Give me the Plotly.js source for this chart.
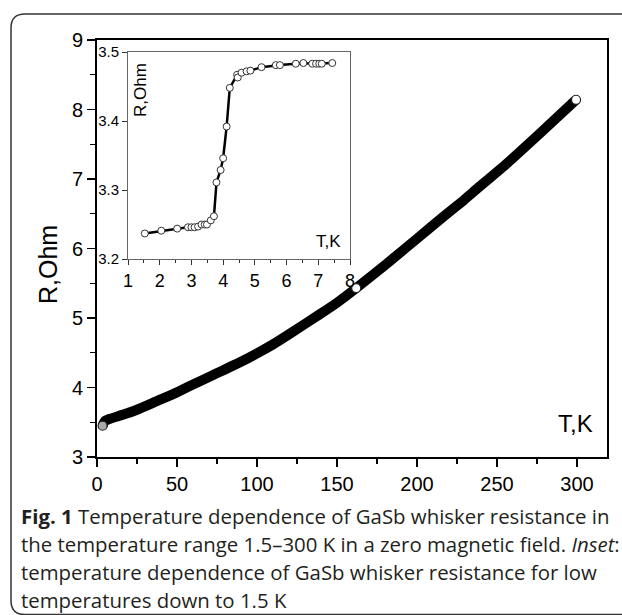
<!DOCTYPE html>
<html>
<head>
<meta charset="utf-8">
<script src="https://cdn.plot.ly/plotly-3.0.1.min.js"></script>
<style>html,body{margin:0;padding:0;background:#fff;} #chart{width:622px;height:615px;}</style>
</head>
<body>
<div id="chart"></div>
<script>
// Main curve: temperature (K) and resistance (Ohm)
var mainT = [3.5, 4, 5, 8, 16.5, 25, 37, 50, 58, 70, 79, 90, 100, 110, 121, 139, 150, 162, 181, 202, 215, 229, 235, 256, 277, 299.4];
var mainR = [3.45, 3.48, 3.52, 3.55, 3.61, 3.68, 3.80, 3.93, 4.02, 4.15, 4.25, 4.37, 4.49, 4.62, 4.78, 5.05, 5.22, 5.43, 5.78, 6.18, 6.43, 6.69, 6.81, 7.22, 7.66, 8.14];
// isolated open circles visible on the main curve
var openT = [3.5, 162, 299.4];
var openR = [3.45, 5.43, 8.14];
// Inset: low temperature data
var insetT = [1.53, 2.05, 2.55, 2.89, 3.0, 3.1, 3.21, 3.32, 3.42, 3.49, 3.61, 3.71, 3.79, 3.92, 4.0, 4.11, 4.21, 4.44, 4.46, 4.58, 4.74, 4.86, 5.21, 5.66, 5.79, 6.29, 6.53, 6.81, 6.93, 7.03, 7.11, 7.44];
var insetR = [3.237, 3.241, 3.244, 3.246, 3.246, 3.246, 3.247, 3.250, 3.250, 3.250, 3.256, 3.262, 3.311, 3.329, 3.346, 3.392, 3.448, 3.467, 3.463, 3.470, 3.472, 3.473, 3.478, 3.481, 3.481, 3.483, 3.484, 3.483, 3.483, 3.483, 3.483, 3.484];
var mainXTicks = [0, 50, 100, 150, 200, 250, 300];
var mainYTicks = [3, 4, 5, 6, 7, 8, 9];
var insetXTicks = [1, 2, 3, 4, 5, 6, 7, 8];
var insetYTicks = [3.2, 3.3, 3.4, 3.5];

var captionLines = [
  "<b>Fig. 1</b> Temperature dependence of GaSb whisker resistance in",
  "the temperature range 1.5\u2013300 K in a zero magnetic field. <i>Inset</i>:",
  "temperature dependence of GaSb whisker resistance for low",
  "temperatures down to 1.5 K"
];

// layout geometry (pixels)
var PL = 97, PR = 607, PT = 40, PB = 457;
function px2x(px){ return (px - PL) / (PR - PL); }
function py2y(py){ return (PB - py) / (PB - PT); }

var FONT = "Liberation Sans, Arial, sans-serif";

var traces = [
  {x: mainT, y: mainR, type: 'scatter', mode: 'lines', line: {color: '#000', width: 10, shape: 'spline', smoothing: 0.5}, xaxis: 'x', yaxis: 'y', hoverinfo: 'skip'},
  {x: openT, y: openR, type: 'scatter', mode: 'markers', marker: {symbol: 'circle', size: 9, color: ['#aaa', '#fff', '#fff'], line: {color: '#222', width: 1.2}}, xaxis: 'x', yaxis: 'y'},
  {x: insetT, y: insetR, type: 'scatter', mode: 'lines+markers', line: {color: '#000', width: 2.5}, marker: {symbol: 'circle', size: 7, color: '#fff', line: {color: '#333', width: 1}}, xaxis: 'x2', yaxis: 'y2'}
];

function ann(px, py, text, size, angle) {
  return {xref: 'paper', yref: 'paper', x: px2x(px), y: py2y(py), xanchor: 'center', yanchor: 'middle', text: text, textangle: angle || 0, showarrow: false, font: {family: FONT, size: size, color: '#000'}};
}
var annotations = [
  ann(48, 265, 'R,Ohm', 25, -90),
  ann(575, 423, 'T,K', 24),
  ann(140, 90, 'R,Ohm', 17, -90),
  ann(328, 241, 'T,K', 17)
];
var capY = [516, 544, 572, 600];
for (var i = 0; i < captionLines.length; i++) {
  annotations.push({xref: 'paper', yref: 'paper', x: px2x(19), y: py2y(capY[i]), xanchor: 'left', yanchor: 'middle', text: captionLines[i], showarrow: false, font: {family: 'Open Sans, Noto Sans, sans-serif', size: 20.4, color: '#231f20'}});
}

// rounded frame around the figure
var fl = 11, ft = 14, fr = 660, fb = 614.5, rad = 14;
function P(px, py){ return px2x(px).toFixed(5) + ',' + py2y(py).toFixed(5); }
var framePath = 'M' + P(fl, fb - rad) + ' L' + P(fl, ft + rad) + ' Q' + P(fl, ft) + ' ' + P(fl + rad, ft) +
  ' L' + P(fr, ft) + ' L' + P(fr, fb) + ' L' + P(fl + rad, fb) + ' Q' + P(fl, fb) + ' ' + P(fl, fb - rad) + ' Z';

var layout = {
  width: 622, height: 615,
  margin: {l: PL, r: 622 - PR, t: PT, b: 615 - PB, pad: 0},
  paper_bgcolor: '#fff', plot_bgcolor: '#fff',
  showlegend: false,
  font: {family: FONT, color: '#000'},
  xaxis: {
    domain: [0, 1], range: [0, 318.75], tickvals: mainXTicks, ticks: 'outside', ticklen: 8, tickwidth: 1.3, tickcolor: '#000',
    minor: {dtick: 25, ticks: 'outside', ticklen: 5, tickwidth: 1.2, tickcolor: '#000'},
    showline: true, linecolor: '#000', linewidth: 1.8, mirror: true, showgrid: false, zeroline: false,
    tickfont: {family: FONT, size: 20, color: '#000'}
  },
  yaxis: {
    domain: [0, 1], range: [3, 9], tickvals: mainYTicks, ticks: 'outside', ticklen: 8, tickwidth: 1.3, tickcolor: '#000',
    minor: {dtick: 0.5, ticks: 'outside', ticklen: 5, tickwidth: 1.2, tickcolor: '#000'},
    showline: true, linecolor: '#000', linewidth: 1.8, mirror: true, showgrid: false, zeroline: false,
    tickfont: {family: FONT, size: 20, color: '#000'}
  },
  xaxis2: {
    domain: [px2x(128), px2x(350)], anchor: 'y2', range: [1, 8], tickvals: insetXTicks, ticks: 'outside', ticklen: 5, tickcolor: '#333',
    minor: {dtick: 0.5, ticks: 'outside', ticklen: 3, tickcolor: '#333'},
    showline: true, linecolor: '#666', linewidth: 1, mirror: true, showgrid: false, zeroline: false,
    tickfont: {family: FONT, size: 18, color: '#000'}
  },
  yaxis2: {
    domain: [py2y(259), py2y(52)], anchor: 'x2', range: [3.2, 3.5], tickvals: insetYTicks, tickformat: '.1f', ticks: 'outside', ticklen: 5, tickcolor: '#333',
    showline: true, linecolor: '#666', linewidth: 1, mirror: true, showgrid: false, zeroline: false,
    tickfont: {family: FONT, size: 15, color: '#000'}
  },
  shapes: [
    {type: 'rect', xref: 'x2 domain', yref: 'y2 domain', x0: 0, x1: 1, y0: 0, y1: 1, fillcolor: '#fff', line: {width: 0}, layer: 'below'},
    {type: 'path', xref: 'paper', yref: 'paper', path: framePath, line: {color: '#333', width: 1.5}, fillcolor: 'rgba(0,0,0,0)', layer: 'below'}
  ],
  annotations: annotations
};

Plotly.newPlot('chart', traces, layout, {staticPlot: true, displayModeBar: false});
</script>
</body>
</html>
